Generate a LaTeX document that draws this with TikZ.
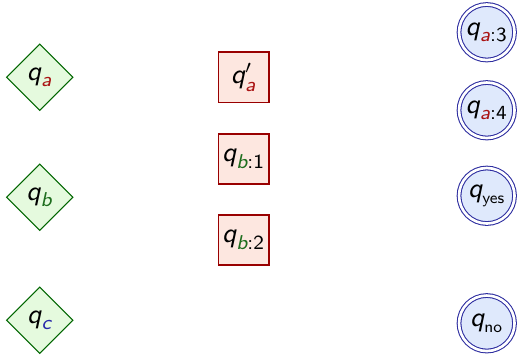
\documentclass[tikz,border=0pt]{standalone}
\usepackage{amsmath,amssymb}
\usepackage{tikz}
\usepackage{xcolor}
\usetikzlibrary{shapes.geometric}
\renewcommand{\familydefault}{\sfdefault}

\definecolor{symA}{RGB}{170,20,20}
\definecolor{symB}{RGB}{30,110,30}
\definecolor{symC}{RGB}{40,40,170}
\definecolor{choiceFill}{RGB}{229,250,222}
\definecolor{innerFill}{RGB}{253,231,224}
\definecolor{acceptFill}{RGB}{223,233,252}
\definecolor{acceptLine}{RGB}{45,45,160}

\tikzset{
    choice/.style={diamond, draw=green!40!black, fill=choiceFill, thin,
        minimum size=0.89cm, inner sep=0pt},
    inner/.style={rectangle, draw=red!60!black, fill=innerFill, semithick,
        minimum size=0.67cm, inner sep=0pt},
    accept/.style={circle, draw=acceptLine, fill=acceptFill, thin,
        double, double distance=1pt, minimum size=0.74cm, inner sep=0pt},
    every node/.style={font=\fontsize{10.5}{12}\selectfont}
}

% state name q with a sans subscript
\newcommand{\st}[1]{$\textit{q}_{\text{\fontsize{7.6}{9}\selectfont #1}}$}
\newcommand{\word}[1]{{\fontsize{6.2}{7}\selectfont #1}}
\newcommand{\letA}{{\itshape\color{symA}a}}
\newcommand{\letB}{{\itshape\color{symB}b}}
\newcommand{\letC}{{\itshape\color{symC}c}}

\begin{document}
\begin{tikzpicture}
    \useasboundingbox (0,0) rectangle (6.893,4.72);

    % Branching states (left column)
    \node[choice] (qa) at (0.53,3.69) {\st{\letA}};
    \node[choice] (qb) at (0.53,2.09) {\st{\letB}};
    \node[choice] (qc) at (0.53,0.45) {\st{\letC}};

    % Intermediate states (middle column)
    \node[inner] (qa1) at (3.25,3.69)
        {$\textit{q}'_{\text{\fontsize{7.6}{9}\selectfont\letA}}$};
    \node[inner] (qb1) at (3.25,2.60) {\st{\letB:1}};
    \node[inner] (qb2) at (3.25,1.52) {\st{\letB:2}};

    % Accepting states (right column)
    \node[accept] (qa3) at (6.49,4.29) {\st{\letA:3}};
    \node[accept] (qa4) at (6.49,3.25) {\st{\letA:4}};
    \node[accept] (qyes) at (6.49,2.11) {\st{\word{yes}}};
    \node[accept] (qno) at (6.49,0.41) {\st{\word{no}}};
\end{tikzpicture}
\end{document}
